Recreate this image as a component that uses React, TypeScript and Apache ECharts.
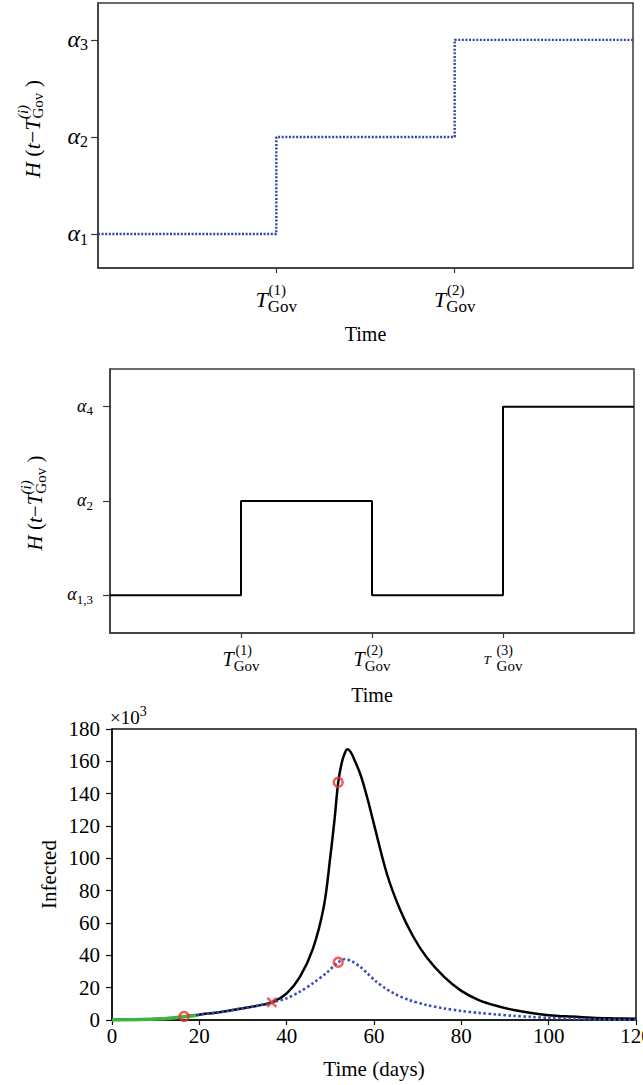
import React, { useEffect, useRef } from 'react';
import * as echarts from 'echarts';

const FONT = 'Liberation Serif';

// ---- Chart 1: three-level step function ----
const topTimes = [0, 1, 2, 3];
const topLevels = [0, 1, 2];
const topTickLevels = [0, 1, 2];
const topLevelSubs = ['1', '2', '3'];
const topTickTimes = [1, 2];
const topTickSups = ['1', '2'];

// ---- Chart 2: up / down / up step function ----
const midTimes = [0, 1, 2, 3, 4];
const midLevels = [0, 1, 0, 2];
const midTickLevels = [0, 1, 2];
const midLevelSubs = ['1,3', '2', '4'];
const midTickTimes = [1, 2, 3];
const midTickSups = ['1', '2', '3'];

// ---- Chart 3: infected curves (×10^3) ----
const blackDays = [0, 5, 10, 14, 16.5, 20, 25, 30, 33, 36.6, 40, 43, 46, 48.5, 50, 51, 51.8, 52.6, 53.3, 53.9, 54.6, 55.5, 57, 58.5, 60, 63, 66, 69, 72, 76, 80, 84, 88, 92, 96, 100, 105, 110, 115, 120];
const blackInfected = [0, 0.2, 0.6, 1.3, 2.0, 3.3, 5.0, 7.3, 8.7, 10.9, 16.5, 26.5, 44, 70, 101, 125, 147, 159, 165, 167.4, 166, 161, 151, 137, 121, 90, 68, 51.5, 39, 26.8, 18, 12.3, 8.8, 6.2, 4.3, 3.0, 2.1, 1.4, 1.0, 0.7];
const blueDays = [0, 5, 10, 14, 16.5, 20, 25, 30, 33, 36.6, 40, 43, 46, 49, 51.8, 53.4, 55, 56.8, 58.5, 60.6, 62.5, 64.5, 68, 72, 76, 80, 84, 88, 92, 96, 100, 106, 112, 120];
const blueInfected = [0, 0.2, 0.6, 1.3, 2.0, 3.3, 5.0, 7.3, 8.7, 10.9, 13.4, 17.5, 22.7, 28.9, 35.7, 37.7, 36.2, 33, 28.8, 23.5, 19.8, 16.5, 12.4, 9.3, 7.2, 5.6, 4.4, 3.4, 2.6, 1.9, 1.3, 0.7, 0.3, 0];
const greenDays = [0, 5, 10, 14, 17, 19.3];
const greenInfected = [0, 0.2, 0.6, 1.3, 2.1, 2.9];
const circleDays = [16.5, 51.8, 51.8];
const circleInfected = [2.2, 147, 35.7];
const crossDays = [36.6];
const crossInfected = [10.9];

function stepPoints(times: number[], levels: number[]) {
  const pts: number[][] = [];
  levels.forEach((lv, i) => {
    pts.push([times[i], lv]);
    pts.push([times[i + 1], lv]);
  });
  return pts;
}
function pairs(xs: number[], ys: number[]) {
  return xs.map((x, i) => [x, ys[i]]);
}

const FRAME = '#383838';

function govRich(tSize: number, supSize: number, subSize: number, supC: number, tC: number, subC: number, l1: number, l2: number, spW: number) {
  const base = { fontFamily: FONT, color: '#000', align: 'left', verticalAlign: 'top', height: 2 };
  return {
    sp: { ...base, width: spW, fontSize: supSize, lineHeight: l1, padding: [supC - 1, 0, 0, 0] },
    sup: { ...base, fontSize: supSize, lineHeight: l1, padding: [supC - 1, 0, 0, 0] },
    T: { ...base, fontStyle: 'italic', fontSize: tSize, lineHeight: l2, padding: [tC - l1 - 1, 0, 0, 0] },
    Ts: { ...base, width: spW, fontStyle: 'italic', fontSize: 13, lineHeight: l2, padding: [tC - l1 - 1, 0, 0, 0] },
    sub: { ...base, fontSize: subSize, lineHeight: l2, padding: [subC - l1 - 1, 0, 0, 0] },
  };
}

function alphaRich(aSize: number, sSize: number, aC: number, sC: number, lh: number) {
  const base = { fontFamily: FONT, color: '#000', align: 'left', verticalAlign: 'top', height: 2, lineHeight: lh };
  return {
    a: { ...base, fontStyle: 'italic', fontSize: aSize, padding: [aC - 1, 0, 0, 0] },
    s: { ...base, fontSize: sSize, padding: [sC - 1, 0, 0, 0] },
  };
}

function titleRich(mainSize: number, spW: number) {
  const base = { fontFamily: FONT, color: '#000', align: 'left', verticalAlign: 'top', height: 2 };
  return {
    sp: { ...base, width: spW, fontSize: 15, lineHeight: 6, padding: [1, 0, 0, 0] },
    sup: { ...base, fontStyle: 'italic', fontSize: 15, lineHeight: 6, padding: [1, 0, 0, 0] },
    it: { ...base, fontStyle: 'italic', fontSize: mainSize, lineHeight: 16, padding: [4, 0, 0, 0] },
    rm: { ...base, fontSize: mainSize, lineHeight: 16, padding: [4, 0, 0, 0] },
    sub: { ...base, fontSize: 15, lineHeight: 16, padding: [10, 0, 0, 0] },
  };
}

const titleText = '{sp| }{sup|(i)}\n{it|H}{rm| (}{it|t}{rm|−}{it|T}{sub|Gov}{rm| )}';

const nameStyle = { fontFamily: FONT, fontSize: 21, color: '#000' };
const timeStyle = { fontFamily: FONT, fontSize: 20, color: '#000' };

const option: any = {
  animation: false,
  backgroundColor: '#fff',
  grid: [
    { left: 98, top: 3, width: 535, height: 265, show: true, borderColor: FRAME, borderWidth: 1.5, outerBoundsMode: 'none' },
    { left: 110, top: 369, width: 524, height: 264, show: true, borderColor: FRAME, borderWidth: 1.5, outerBoundsMode: 'none' },
    { left: 112, top: 729, width: 524, height: 291, show: true, borderColor: '#111', borderWidth: 1.5, outerBoundsMode: 'none' },
  ],
  xAxis: [
    {
      gridIndex: 0, type: 'value', min: 0, max: 3,
      axisLine: { show: true, onZero: false, lineStyle: { color: FRAME, width: 1.5 } },
      axisTick: { show: true, customValues: topTickTimes, length: 5, lineStyle: { color: FRAME, width: 1.2 } },
      axisLabel: {
        customValues: topTickTimes, margin: 19,
        formatter: (v: number) => `{sp| }{sup|(${topTickSups[topTickTimes.indexOf(v)]})}\n{T|T}{sub|Gov}`,
        rich: govRich(22, 15, 17, 3, 12, 19, 8, 15, 13),
      },
      splitLine: { show: false },
      name: 'Time', nameLocation: 'middle', nameGap: 56, nameMoveOverlap: false, nameTextStyle: timeStyle,
    },
    {
      gridIndex: 1, type: 'value', min: 0, max: 4,
      axisLine: { show: true, onZero: false, lineStyle: { color: FRAME, width: 1.5 } },
      axisTick: { show: true, customValues: midTickTimes, length: 5, lineStyle: { color: FRAME, width: 1.2 } },
      axisLabel: {
        customValues: midTickTimes, margin: 14,
        formatter: (v: number) => {
          const i = midTickTimes.indexOf(v);
          return i === 2
            ? `{sp| }{sup|(${midTickSups[i]})}\n{Ts|T}{sub|Gov}`
            : `{sp| }{sup|(${midTickSups[i]})}\n{T|T}{sub|Gov}`;
        },
        rich: govRich(20, 14, 15, 3, 12, 19, 8, 16, 13),
      },
      splitLine: { show: false },
      name: 'Time', nameLocation: 'middle', nameGap: 52, nameMoveOverlap: false, nameTextStyle: timeStyle,
    },
    {
      gridIndex: 2, type: 'value', min: 0, max: 120, interval: 20,
      axisLine: { show: true, onZero: false, lineStyle: { color: '#111', width: 1.5 } },
      axisTick: { show: true, length: 5, lineStyle: { color: '#111', width: 1.2 } },
      axisLabel: { margin: 5, fontFamily: FONT, fontSize: 21, color: '#000' },
      splitLine: { show: false },
      name: 'Time (days)', nameLocation: 'middle', nameGap: 38, nameMoveOverlap: false, nameTextStyle: nameStyle,
    },
  ],
  yAxis: [
    {
      gridIndex: 0, type: 'value', min: -0.35, max: 2.38,
      axisLine: { show: true, onZero: false, lineStyle: { color: FRAME, width: 1.5 } },
      axisTick: { show: true, customValues: topTickLevels, length: 7, lineStyle: { color: FRAME, width: 1.2 } },
      axisLabel: {
        customValues: topTickLevels, margin: 10,
        formatter: (v: number) => `{a|α}{s|${topLevelSubs[topTickLevels.indexOf(v)]}}`,
        rich: alphaRich(24, 16, 9, 15, 20),
      },
      splitLine: { show: false },
    },
    {
      gridIndex: 1, type: 'value', min: -0.4, max: 2.4,
      axisLine: { show: true, onZero: false, lineStyle: { color: FRAME, width: 1.5 } },
      axisTick: { show: true, customValues: midTickLevels, length: 7, lineStyle: { color: FRAME, width: 1.2 } },
      axisLabel: {
        customValues: midTickLevels, margin: 17,
        formatter: (v: number) => `{a|α}{s|${midLevelSubs[midTickLevels.indexOf(v)]}}`,
        rich: alphaRich(18, 13, 8, 13, 18),
      },
      splitLine: { show: false },
    },
    {
      gridIndex: 2, type: 'value', min: 0, max: 180, interval: 20,
      axisLine: { show: true, onZero: false, lineStyle: { color: '#111', width: 1.5 } },
      axisTick: { show: true, length: 6, lineStyle: { color: '#111', width: 1.2 } },
      axisLabel: { margin: 12, fontFamily: FONT, fontSize: 21, color: '#000' },
      splitLine: { show: false },
      name: 'Infected', nameLocation: 'middle', nameGap: 53, nameMoveOverlap: false, nameTextStyle: nameStyle,
    },
  ],
  graphic: [
    {
      type: 'text', x: 32, y: 129, rotation: Math.PI / 2,
      style: { text: titleText, rich: titleRich(22, 59), align: 'center', verticalAlign: 'middle', fill: '#000' },
    },
    {
      type: 'text', x: 35, y: 503, rotation: Math.PI / 2,
      style: { text: titleText, rich: titleRich(21, 56), align: 'center', verticalAlign: 'middle', fill: '#000' },
    },
    {
      type: 'text', x: 110, y: 717,
      style: {
        text: '{r|×10}{s|3}', align: 'left', verticalAlign: 'middle', fill: '#000',
        rich: {
          r: { fontFamily: FONT, fontSize: 19, color: '#000', lineHeight: 20, verticalAlign: 'top', height: 2, padding: [9, 0, 0, 0] },
          s: { fontFamily: FONT, fontSize: 14, color: '#000', lineHeight: 20, verticalAlign: 'top', height: 2, padding: [3, 0, 0, 0] },
        },
      },
    },
  ],
  series: [
    {
      type: 'line', xAxisIndex: 0, yAxisIndex: 0, data: stepPoints(topTimes, topLevels), showSymbol: false,
      lineStyle: { color: '#3244a6', width: 2.4, type: [2, 1.6] },
    },
    {
      type: 'line', xAxisIndex: 1, yAxisIndex: 1, data: stepPoints(midTimes, midLevels), showSymbol: false,
      lineStyle: { color: '#000', width: 2 },
    },
    {
      type: 'line', xAxisIndex: 2, yAxisIndex: 2, data: pairs(blackDays, blackInfected), showSymbol: false,
      smooth: 0.35, lineStyle: { color: '#000', width: 2.5 }, z: 2,
    },
    {
      type: 'line', xAxisIndex: 2, yAxisIndex: 2, data: pairs(blueDays, blueInfected), showSymbol: false,
      smooth: 0.3, lineStyle: { color: '#3b4db5', width: 2.6, type: [2.5, 2.5] }, z: 3,
    },
    {
      type: 'line', xAxisIndex: 2, yAxisIndex: 2, data: pairs(greenDays, greenInfected), showSymbol: false,
      smooth: 0.3, lineStyle: { color: '#3cb43c', width: 3.5 }, z: 4,
    },
    {
      type: 'scatter', xAxisIndex: 2, yAxisIndex: 2, data: pairs(circleDays, circleInfected),
      symbol: 'circle', symbolSize: 9,
      itemStyle: { color: 'rgba(0,0,0,0)', borderColor: '#e8352f', borderWidth: 2.5 }, z: 6,
    },
    {
      type: 'scatter', xAxisIndex: 2, yAxisIndex: 2, data: pairs(crossDays, crossInfected),
      symbol: 'path://M0,0L10,10M10,0L0,10', symbolSize: 9,
      itemStyle: { color: 'rgba(0,0,0,0)', borderColor: '#e8352f', borderWidth: 2.5 }, z: 6,
    },
  ],
};

export default function App() {
  const ref = useRef<HTMLDivElement>(null);
  useEffect(() => {
    const chart = echarts.init(ref.current!, null, { renderer: 'svg' });
    chart.setOption(option);
    return () => chart.dispose();
  }, []);
  return (
    <div
      ref={ref}
      style={{ position: 'absolute', left: 0, top: 0, width: 643, height: 1085, background: '#fff' }}
    />
  );
}
